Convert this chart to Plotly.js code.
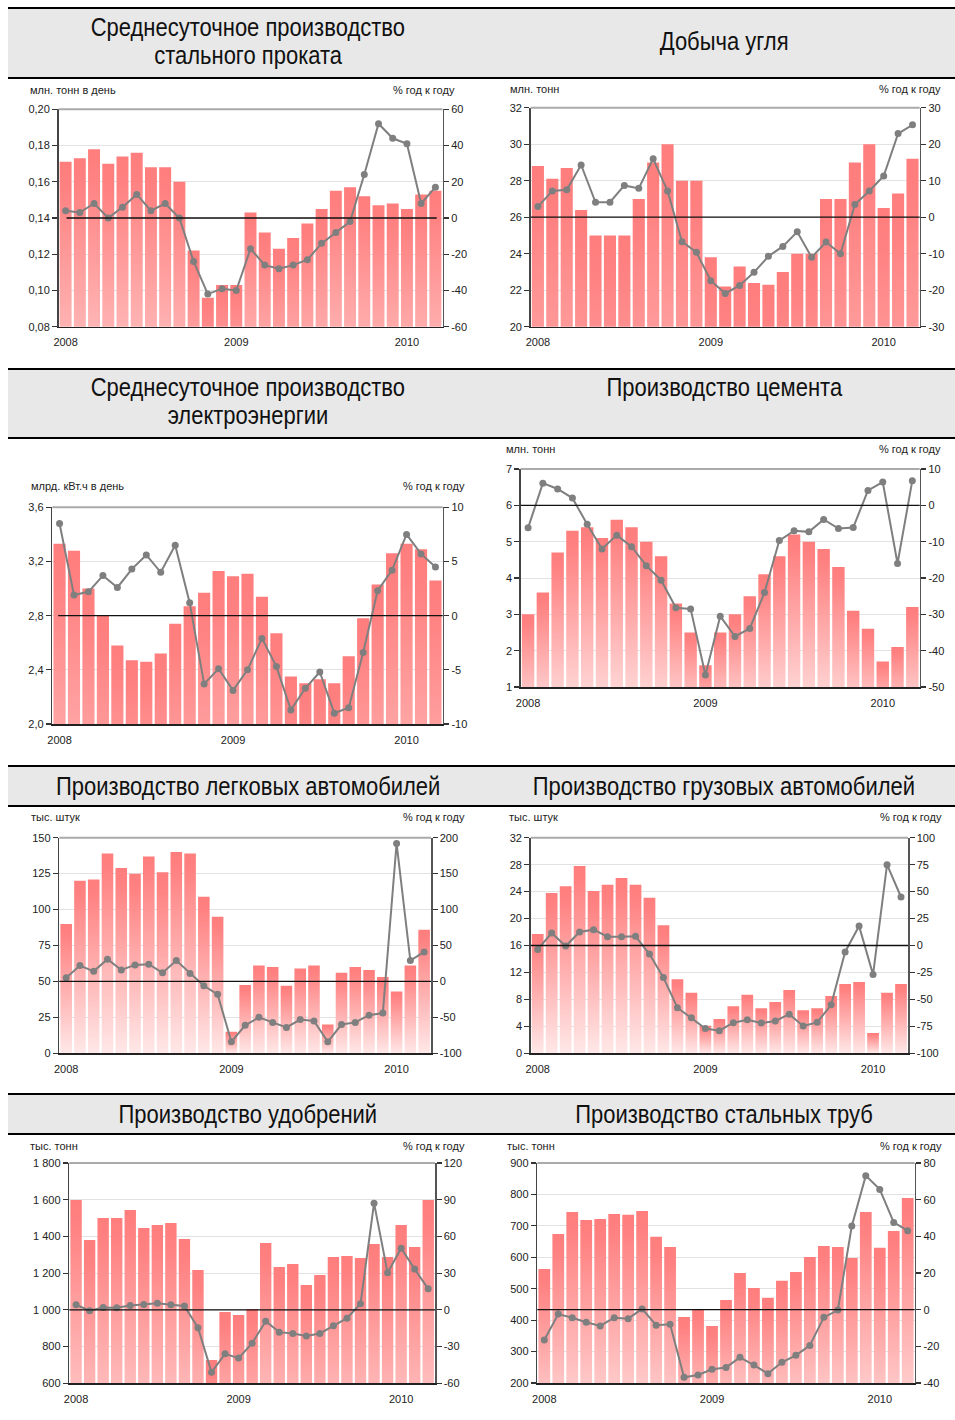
<!DOCTYPE html>
<html>
<head>
<meta charset="utf-8">
<script src="https://cdn.plot.ly/plotly-3.0.1.min.js"></script>
<style>
html,body{margin:0;padding:0;background:#fff;}
#chart{width:955px;height:1420px;}
</style>
</head>
<body>
<div id="chart"></div>
<script>
// ---------- categories ----------
const months = ['2008-01','2008-02','2008-03','2008-04','2008-05','2008-06','2008-07','2008-08','2008-09','2008-10','2008-11','2008-12',
                '2009-01','2009-02','2009-03','2009-04','2009-05','2009-06','2009-07','2009-08','2009-09','2009-10','2009-11','2009-12',
                '2010-01','2010-02','2010-03'];
const yearTickVals = ['2008-01','2009-01','2010-01'];
const yearTickText = ['2008','2009','2010'];
const pctLabel = '% год к году';

// ---------- 1. steel rolled products ----------
const steelTitle = ['Среднесуточное производство','стального проката'];
const steelUnit = 'млн. тонн в день';
const steelVolume = [0.171,0.173,0.178,0.170,0.174,0.176,0.168,0.168,0.160,0.122,0.096,0.103,0.103,0.143,0.132,0.123,0.129,0.137,0.145,0.155,0.157,0.152,0.147,0.148,0.145,0.153,0.155];
const steelYoY = [4,3,8,0,6,13,4,8,0,-24,-42,-39,-40,-17,-26,-28,-26,-23,-14,-8,-2,24,52,44,41,8,17];
const steelLeftTicks = [0.08,0.10,0.12,0.14,0.16,0.18,0.20];
const steelLeftLabels = ['0,08','0,10','0,12','0,14','0,16','0,18','0,20'];
const steelRightTicks = [-60,-40,-20,0,20,40,60];
const steelRightLabels = ['-60','-40','-20','0','20','40','60'];

// ---------- 2. coal ----------
const coalTitle = ['Добыча угля'];
const coalUnit = 'млн. тонн';
const coalVolume = [28.8,28.1,28.7,26.4,25.0,25.0,25.0,27.0,29.0,30.0,28.0,28.0,23.8,22.2,23.3,22.4,22.3,23.0,24.0,24.0,27.0,27.0,29.0,30.0,26.5,27.3,29.2];
const coalYoY = [2.9,7.2,7.5,14.3,4.1,4.1,8.7,7.9,16,7.2,-6.7,-9.6,-17.4,-20.9,-18.7,-15.1,-10.7,-8,-4,-11,-6.8,-10,3.5,7.2,11.3,22.9,25.3];
const coalLeftTicks = [20,22,24,26,28,30,32];
const coalLeftLabels = ['20','22','24','26','28','30','32'];
const coalRightTicks = [-30,-20,-10,0,10,20,30];
const coalRightLabels = ['-30','-20','-10','0','10','20','30'];

// ---------- 3. electricity ----------
const elecTitle = ['Среднесуточное производство','электроэнергии'];
const elecUnit = 'млрд. кВт.ч в день';
const elecVolume = [3.33,3.28,3.00,2.80,2.58,2.47,2.46,2.52,2.74,2.87,2.97,3.13,3.09,3.11,2.94,2.67,2.35,2.30,2.33,2.30,2.50,2.78,3.03,3.26,3.33,3.29,3.06];
const elecYoY = [8.5,1.9,2.2,3.7,2.6,4.3,5.6,4.0,6.5,1.2,-6.3,-4.9,-6.9,-5.0,-2.1,-4.7,-8.7,-6.7,-5.2,-9.0,-8.5,-3.4,2.3,4.2,7.5,5.7,4.5];
const elecLeftTicks = [2.0,2.4,2.8,3.2,3.6];
const elecLeftLabels = ['2,0','2,4','2,8','3,2','3,6'];
const elecRightTicks = [-10,-5,0,5,10];
const elecRightLabels = ['-10','-5','0','5','10'];

// ---------- 4. cement ----------
const cementTitle = ['Производство цемента'];
const cementUnit = 'млн. тонн';
const cementVolume = [3.0,3.6,4.7,5.3,5.4,5.1,5.6,5.4,5.0,4.6,3.3,2.5,1.6,2.5,3.0,3.5,4.1,4.6,5.2,5.0,4.8,4.3,3.1,2.6,1.7,2.1,3.2];
const cementYoY = [-6.2,6.1,4.5,2.0,-5.2,-12.0,-8.2,-11.4,-16.6,-20.6,-28.2,-28.5,-46.7,-30.5,-36.1,-33.9,-24.0,-9.7,-7.0,-7.3,-3.9,-6.4,-6.1,4.1,6.4,-16.0,6.8];
const cementLeftTicks = [1,2,3,4,5,6,7];
const cementLeftLabels = ['1','2','3','4','5','6','7'];
const cementRightTicks = [-50,-40,-30,-20,-10,0,10];
const cementRightLabels = ['-50','-40','-30','-20','-10','0','10'];

// ---------- 5. passenger cars ----------
const carTitle = ['Производство легковых автомобилей'];
const carUnit = 'тыс. штук';
const carVolume = [90,120,121,139,129,125,137,126,140,139,109,95,15,47.5,61,60,47,59,61,20,56,60,58,53,43,61,86];
const carYoY = [5,22,14,31,16,23,24,12,29,11,-6,-18,-84,-61,-50,-57,-64,-53,-55,-84,-60,-57,-47,-44,192,29,41];
const carLeftTicks = [0,25,50,75,100,125,150];
const carLeftLabels = ['0','25','50','75','100','125','150'];
const carRightTicks = [-100,-50,0,50,100,150,200];
const carRightLabels = ['-100','-50','0','50','100','150','200'];

// ---------- 6. trucks ----------
const truckTitle = ['Производство грузовых автомобилей'];
const truckUnit = 'тыс. штук';
const truckVolume = [17.7,23.8,24.8,27.8,24.1,25.0,26.0,25.0,23.1,19.0,11.0,9.0,4.1,5.1,7.0,8.7,6.7,7.6,9.4,6.4,6.7,8.5,10.3,10.6,3.0,9.0,10.3];
const truckYoY = [-3.6,11.6,-0.5,12.5,14.7,8.2,8.2,8.5,-7.9,-29.8,-57.7,-67,-77,-79,-71.6,-68.8,-71.9,-70,-63.8,-74.6,-71.3,-55,-6,18,-27,75,45];
const truckLeftTicks = [0,4,8,12,16,20,24,28,32];
const truckLeftLabels = ['0','4','8','12','16','20','24','28','32'];
const truckRightTicks = [-100,-75,-50,-25,0,25,50,75,100];
const truckRightLabels = ['-100','-75','-50','-25','0','25','50','75','100'];

// ---------- 7. fertilizers ----------
const fertTitle = ['Производство удобрений'];
const fertUnit = 'тыс. тонн';
const fertVolume = [1598,1380,1500,1500,1544,1446,1462,1473,1386,1217,727,988,972,1005,1364,1233,1250,1135,1190,1288,1293,1283,1359,1288,1462,1342,1598];
const fertYoY = [4.2,-0.7,2.0,1.7,3.6,4.4,5.5,4.2,3.1,-14.6,-50.9,-35.9,-39.4,-27.2,-9.2,-18.2,-19.3,-21.4,-19.3,-13.0,-6.8,5.0,87.2,30.3,50.4,33.3,17.2];
const fertLeftTicks = [600,800,1000,1200,1400,1600,1800];
const fertLeftLabels = ['600','800','1 000','1 200','1 400','1 600','1 800'];
const fertRightTicks = [-60,-30,0,30,60,90,120];
const fertRightLabels = ['-60','-30','0','30','60','90','120'];

// ---------- 8. steel pipes ----------
const pipeTitle = ['Производство стальных труб'];
const pipeUnit = 'тыс. тонн';
const pipeVolume = [563,674,744,719,722,738,735,747,665,633,410,432,381,464,550,502,471,525,553,601,636,633,598,744,630,684,789];
const pipeYoY = [-16.5,-2.4,-4.4,-6.9,-8.9,-4.4,-4.9,0.4,-8.5,-8.0,-36.9,-35.6,-32.5,-31.5,-26.0,-30.2,-34.9,-28.7,-24.9,-19.5,-4.2,-0.2,45.6,73.1,65.6,47.6,43.1];
const pipeLeftTicks = [200,300,400,500,600,700,800,900];
const pipeLeftLabels = ['200','300','400','500','600','700','800','900'];
const pipeRightTicks = [-40,-20,0,20,40,60,80];
const pipeRightLabels = ['-40','-20','0','20','40','60','80'];

// ---------- page geometry (pixels) ----------
const W = 955, H = 1420;
const px = v => v / W;
const py = v => 1 - v / H;

const panels = [
  {vol:steelVolume, yoy:steelYoY, lt:steelLeftTicks, ll:steelLeftLabels, rt:steelRightTicks, rl:steelRightLabels, unit:steelUnit,
   box:[58.5,442.5,109.3,326.7], unitX:28, pctX:457, labY:90, zx:[0.021,0.985]},
  {vol:coalVolume, yoy:coalYoY, lt:coalLeftTicks, ll:coalLeftLabels, rt:coalRightTicks, rl:coalRightLabels, unit:coalUnit,
   box:[530.7,919.7,107.7,326.7], unitX:508, pctX:943, labY:89, zx:[0,1]},
  {vol:elecVolume, yoy:elecYoY, lt:elecLeftTicks, ll:elecLeftLabels, rt:elecRightTicks, rl:elecRightLabels, unit:elecUnit,
   box:[52.3,442.7,507.3,724], unitX:28.5, pctX:467, labY:486, zx:[0.015,1]},
  {vol:cementVolume, yoy:cementYoY, lt:cementLeftTicks, ll:cementLeftLabels, rt:cementRightTicks, rl:cementRightLabels, unit:cementUnit,
   box:[520.7,919.7,469,687], unitX:504, pctX:943, labY:449, zx:[0,1]},
  {vol:carVolume, yoy:carYoY, lt:carLeftTicks, ll:carLeftLabels, rt:carRightTicks, rl:carRightLabels, unit:carUnit,
   box:[59.3,431,837.7,1053.3], unitX:28.5, pctX:467, labY:817, zx:[0,1]},
  {vol:truckVolume, yoy:truckYoY, lt:truckLeftTicks, ll:truckLeftLabels, rt:truckRightTicks, rl:truckRightLabels, unit:truckUnit,
   box:[530.7,908,837.7,1053.3], unitX:506.5, pctX:944, labY:817, zx:[0,1]},
  {vol:fertVolume, yoy:fertYoY, lt:fertLeftTicks, ll:fertLeftLabels, rt:fertRightTicks, rl:fertRightLabels, unit:fertUnit,
   box:[69.3,435,1163,1383.3], unitX:28, pctX:467, labY:1145.5, zx:[0,1]},
  {vol:pipeVolume, yoy:pipeYoY, lt:pipeLeftTicks, ll:pipeLeftLabels, rt:pipeRightTicks, rl:pipeRightLabels, unit:pipeUnit,
   box:[537.3,914.7,1163,1383], unitX:505, pctX:944, labY:1145.5, zx:[0,1]}
];

// title bands: centre y of each title line
const headers = [
  {top:8,   bottom:78,   titles:[{t:steelTitle, x:248, ys:[26.5,55]},   {t:coalTitle,   x:724, ys:[41]}]},
  {top:369, bottom:438,  titles:[{t:elecTitle,  x:248, ys:[386.5,415]}, {t:cementTitle, x:724, ys:[386.5]}]},
  {top:766, bottom:806,  titles:[{t:carTitle,   x:248, ys:[785.5]},     {t:truckTitle,  x:724, ys:[785.5]}]},
  {top:1094,bottom:1134, titles:[{t:fertTitle,  x:248, ys:[1113.5]},    {t:pipeTitle,   x:724, ys:[1113.5]}]}
];

const tickFont = {family:'Liberation Sans, Arial, sans-serif', size:11, color:'#222'};
const labFont  = {family:'Liberation Sans, Arial, sans-serif', size:11, color:'#222'};
const titleFont = {family:'Liberation Sans, Arial, sans-serif', size:26, color:'#111'};
const NARROW = 0.846;   // Arial Narrow look

const data = [];
const layout = {
  width:W, height:H, margin:{l:0,r:0,t:0,b:0}, showlegend:false,
  paper_bgcolor:'#ffffff', plot_bgcolor:'rgba(0,0,0,0)', hovermode:false,
  shapes:[], annotations:[]
};
const titleAnnIdx = [];

headers.forEach(h => {
  layout.shapes.push({type:'rect', xref:'paper', yref:'paper', x0:px(8), x1:1, y0:py(h.bottom), y1:py(h.top),
                      fillcolor:'#e8e8e8', line:{width:0}, layer:'below'});
  [h.top, h.bottom].forEach(yy => layout.shapes.push({type:'line', xref:'paper', yref:'paper', x0:px(8), x1:1,
                      y0:py(yy), y1:py(yy), line:{color:'#000', width:2}}));
  h.titles.forEach(t => t.t.forEach((line, j) => {
    titleAnnIdx.push(layout.annotations.length);
    layout.annotations.push({xref:'paper', yref:'paper', x:px(t.x), y:py(t.ys[j]), text:line,
                      showarrow:false, xanchor:'center', yanchor:'middle', font:titleFont});
  }));
});

panels.forEach((p, i) => {
  const k = i + 1;
  const xId = k === 1 ? 'x' : 'x' + k;
  const ylNum = 2 * k - 1, yrNum = 2 * k;
  const ylId = ylNum === 1 ? 'y' : 'y' + ylNum;
  const yrId = 'y' + yrNum;
  const b = p.box;

  data.push({type:'bar', x:months, y:p.vol, xaxis:xId, yaxis:ylId, width:0.84,
             marker:{color:'#ff8585', line:{width:0}}, hoverinfo:'skip'});
  data.push({type:'scatter', mode:'lines+markers', x:months, y:p.yoy, xaxis:xId, yaxis:yrId,
             line:{color:'#7f7f7f', width:2}, marker:{color:'#7f7f7f', size:7}, cliponaxis:false, hoverinfo:'skip'});

  layout['xaxis' + (k === 1 ? '' : k)] = {
    domain:[px(b[0]), px(b[1])], anchor:ylId, type:'category', range:[-0.5, 26.5],
    tickvals:yearTickVals, ticktext:yearTickText, ticks:'', showgrid:false, zeroline:false,
    showline:true, linecolor:'#222', linewidth:1.5, tickfont:tickFont, ticklabelstandoff:5, fixedrange:true
  };
  layout['yaxis' + (ylNum === 1 ? '' : ylNum)] = {
    domain:[py(b[3]), py(b[2])], anchor:xId, range:[p.lt[0], p.lt[p.lt.length - 1]],
    tickmode:'array', tickvals:p.lt, ticktext:p.ll, showgrid:true, gridcolor:'#e2e2e2', gridwidth:1,
    zeroline:false, showline:true, linecolor:'#444', linewidth:1.5,
    ticks:'outside', ticklen:5, tickcolor:'#333', tickwidth:1.2, tickfont:tickFont, fixedrange:true
  };
  layout['yaxis' + yrNum] = {
    overlaying:ylId, side:'right', anchor:xId, range:[p.rt[0], p.rt[p.rt.length - 1]],
    tickmode:'array', tickvals:p.rt, ticktext:p.rl, showgrid:false, zeroline:false,
    showline:true, linecolor:'#555', linewidth:1.5,
    ticks:'outside', ticklen:5, tickcolor:'#333', tickwidth:1.2, tickfont:tickFont, fixedrange:true
  };

  layout.shapes.push({type:'line', xref:xId + ' domain', yref:ylId + ' domain', x0:0, x1:1, y0:1, y1:1,
                      line:{color:'#aaaaaa', width:2}});
  layout.shapes.push({type:'line', xref:xId + ' domain', yref:yrId, x0:p.zx[0], x1:p.zx[1], y0:0, y1:0,
                      line:{color:'#111', width:1.3}, layer:'above'});

  layout.annotations.push({xref:'paper', yref:'paper', x:px(p.unitX), y:py(p.labY), text:p.unit,
                           showarrow:false, xanchor:'left', yanchor:'middle', font:labFont});
  layout.annotations.push({xref:'paper', yref:'paper', x:px(p.pctX), y:py(p.labY), text:pctLabel,
                           showarrow:false, xanchor:'right', yanchor:'middle', font:labFont});
});

function finishStyling(gd) {
  const svg = gd.querySelector('svg.main-svg');
  if (!svg) return;
  const NS = 'http://www.w3.org/2000/svg';
  let defs = svg.querySelector('defs');
  if (!defs) { defs = document.createElementNS(NS, 'defs'); svg.insertBefore(defs, svg.firstChild); }
  if (!svg.querySelector('#barGrad')) {
    const lg = document.createElementNS(NS, 'linearGradient');
    lg.setAttribute('id', 'barGrad');
    lg.setAttribute('x1', '0'); lg.setAttribute('y1', '0');
    lg.setAttribute('x2', '0'); lg.setAttribute('y2', '1');
    [[0, '#ff7d7d'], [0.08, '#ff8181'], [0.55, '#ffb4b4'], [1, '#ffe8e8']].forEach(s => {
      const st = document.createElementNS(NS, 'stop');
      st.setAttribute('offset', s[0]);
      st.setAttribute('stop-color', s[1]);
      lg.appendChild(st);
    });
    defs.appendChild(lg);
  }
  gd.querySelectorAll('.barlayer .point path').forEach(path => {
    path.style.fill = 'url(#barGrad)';
    path.style.fillOpacity = 1;
  });
  // narrow the title lettering horizontally about each title's centre
  gd.querySelectorAll('g.annotation').forEach(g => {
    const idx = +g.getAttribute('data-index');
    if (titleAnnIdx.indexOf(idx) < 0) return;
    const txt = g.querySelector('text.annotation-text');
    if (!txt || txt.getAttribute('data-narrow')) return;
    const bb = txt.getBBox();
    const cx = bb.x + bb.width / 2;
    const prev = txt.getAttribute('transform') || '';
    txt.setAttribute('transform', (prev + ' translate(' + cx + ',0) scale(' + NARROW + ',1) translate(' + (-cx) + ',0)').trim());
    txt.setAttribute('data-narrow', '1');
  });
}

const gd = document.getElementById('chart');
Plotly.newPlot(gd, data, layout, {staticPlot:true, displayModeBar:false}).then(() => finishStyling(gd));
finishStyling(gd);
</script>
</body>
</html>
